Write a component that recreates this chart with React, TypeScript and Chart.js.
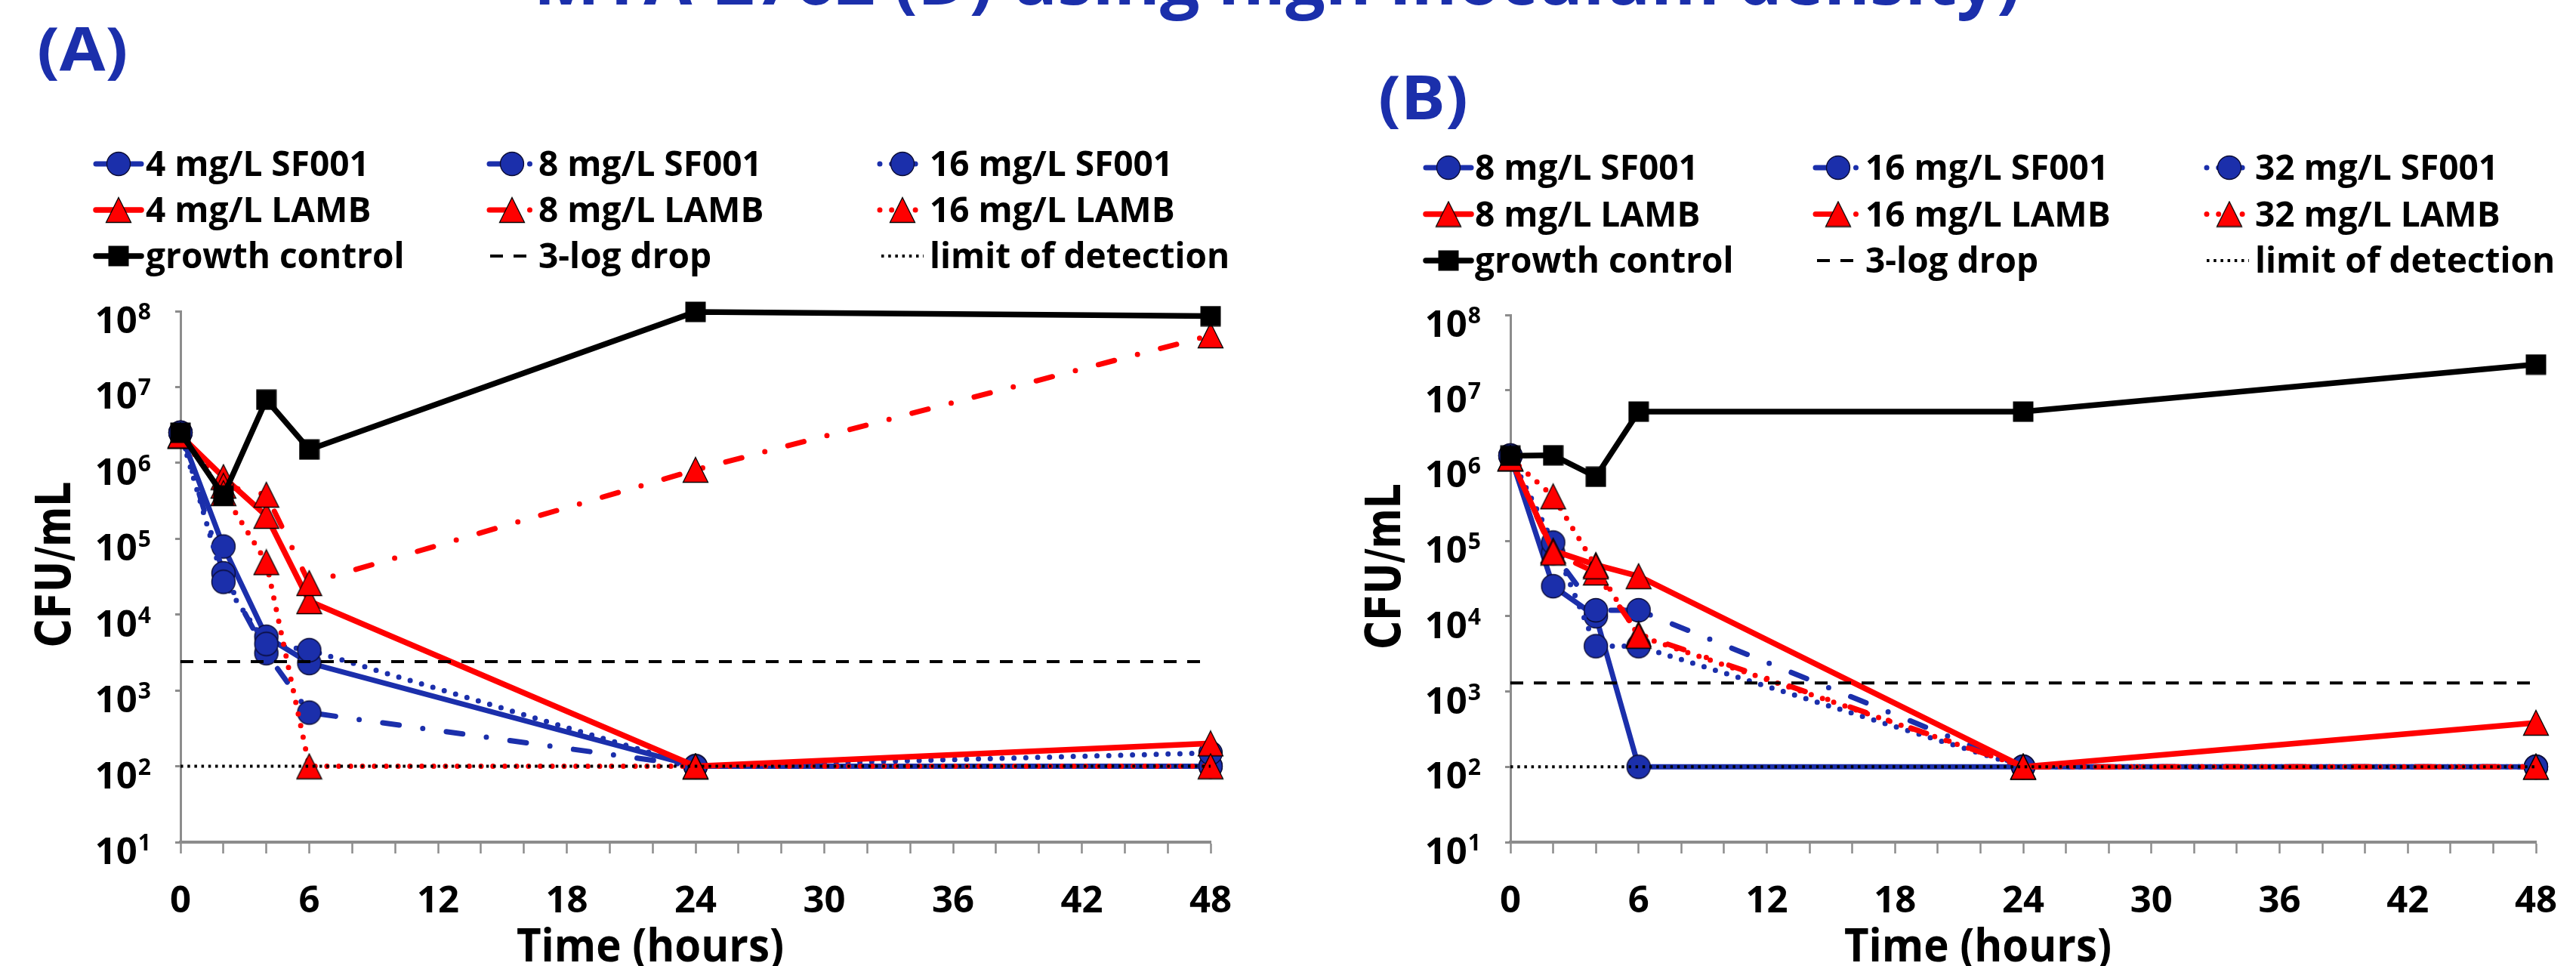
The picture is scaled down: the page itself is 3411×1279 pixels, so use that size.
import React, { useEffect, useRef } from 'react';
import { Chart, registerables } from 'chart.js';

Chart.register(...registerables);

// ---------- data ----------
const HOURS = [0, 2, 4, 6, 24, 48];
const REF_HOURS = [0, 48];
const Y_TICKS = [1e1, 1e2, 1e3, 1e4, 1e5, 1e6, 1e7, 1e8];
const X_TICK_LABELS = [0, 6, 12, 18, 24, 30, 36, 42, 48];

const TITLE = 'MYA-2762 (D) using high inoculum density)';

const A_LABELS = ['4 mg/L SF001', '8 mg/L SF001', '16 mg/L SF001', '4 mg/L LAMB', '8 mg/L LAMB', '16 mg/L LAMB', 'growth control', '3-log drop', 'limit of detection'];
const B_LABELS = ['8 mg/L SF001', '16 mg/L SF001', '32 mg/L SF001', '8 mg/L LAMB', '16 mg/L LAMB', '32 mg/L LAMB', 'growth control', '3-log drop', 'limit of detection'];

// Panel A
const A_SF001_4 = [2.5e6, 7.9e4, 5.1e3, 2.3e3, 100, 100];
const A_SF001_8 = [2.5e6, 3.5e4, 3.1e3, 510, 100, 100];
const A_SF001_16 = [2.5e6, 2.7e4, 4.1e3, 3.4e3, 100, 150];
const A_LAMB_4 = [2.3e6, 6.5e5, 2.0e5, 1.5e4, 100, 200];
const A_LAMB_8 = [2.3e6, 5.0e5, 3.8e5, 2.6e4, 8.1e5, 4.8e7];
const A_LAMB_16 = [2.3e6, 4.0e5, 4.9e4, 100, 100, 100];
const A_GROWTH = [2.5e6, 3.7e5, 6.8e6, 1.5e6, 9.8e7, 8.6e7];
const A_3LOG = [2400, 2400];
const A_LOD = [100, 100];

// Panel B
const B_SF001_8 = [1.35e6, 2.5e4, 1.0e4, 100, 100, 100];
const B_SF001_16 = [1.35e6, 6.9e4, 1.2e4, 1.2e4, 100, 100];
const B_SF001_32 = [1.35e6, 9.5e4, 4.0e3, 4.0e3, 100, 100];
const B_LAMB_8 = [1.25e6, 7.4e4, 4.8e4, 3.4e4, 100, 385];
const B_LAMB_16 = [1.25e6, 7.0e4, 3.8e4, 5.8e3, 100, 100];
const B_LAMB_32 = [1.25e6, 3.9e5, 4.6e4, 5.5e3, 100, 100];
const B_GROWTH = [1.35e6, 1.37e6, 7.1e5, 5.2e6, 5.2e6, 2.2e7];
const B_3LOG = [1300, 1300];
const B_LOD = [100, 100];

const A_SERIES = [A_SF001_4, A_SF001_8, A_SF001_16, A_LAMB_4, A_LAMB_8, A_LAMB_16, A_GROWTH, A_3LOG, A_LOD];
const B_SERIES = [B_SF001_8, B_SF001_16, B_SF001_32, B_LAMB_8, B_LAMB_16, B_LAMB_32, B_GROWTH, B_3LOG, B_LOD];

// ---------- styles ----------
const BLUE = '#1b2fab';
const RED = '#ff0000';
const BLACK = '#000000';
const GRAY = '#8c8c8c';
const FONT = '"Open Sans", "Liberation Sans", sans-serif';

const DASHDOT = [22, 31.5, 0, 31.5];
const DOTTED = [0, 15.7];
const DASHED = [17, 14];
const FINE_DOT = [3.5, 5.7];

type Style = { color: string; dash: number[]; width: number; cap: CanvasLineCap; marker: string | null };
const STYLES: Style[] = [
  { color: BLUE, dash: [], width: 7, cap: 'round', marker: 'circle' },
  { color: BLUE, dash: DASHDOT, width: 7, cap: 'round', marker: 'circle' },
  { color: BLUE, dash: DOTTED, width: 7, cap: 'round', marker: 'circle' },
  { color: RED, dash: [], width: 7.5, cap: 'round', marker: 'triangle' },
  { color: RED, dash: DASHDOT, width: 7, cap: 'round', marker: 'triangle' },
  { color: RED, dash: DOTTED, width: 7, cap: 'round', marker: 'triangle' },
  { color: BLACK, dash: [], width: 7.5, cap: 'round', marker: 'square' },
  { color: BLACK, dash: DASHED, width: 4, cap: 'butt', marker: null },
  { color: BLACK, dash: FINE_DOT, width: 4, cap: 'butt', marker: null },
];

const H = 1279;
const YW = 12;
const XH = 20;

const PANELS: Record<string, any> = {
  A: {
    canvasLeft: 0, width: 1700,
    area: { left: 239, right: 1603, top: 412, bottom: 1115 },
    legendMarkX: [157, 678, 1195], legendTextX: [193, 713, 1231], legendRows: [217, 278, 339],
    label: '(A)', labelX: 49, labelBase: 94,
  },
  B: {
    canvasLeft: 1700, width: 1711,
    area: { left: 300, right: 1658, top: 417, bottom: 1115 },
    legendMarkX: [218, 734, 1252], legendTextX: [253, 770, 1286], legendRows: [222, 283.5, 345],
    label: '(B)', labelX: 125, labelBase: 158,
  },
};

let MARKERS: Record<string, HTMLCanvasElement> | null = null;
function getMarkers() {
  if (MARKERS) return MARKERS;
  const mk = (s: number, draw: (g: CanvasRenderingContext2D) => void) => {
    const c = document.createElement('canvas');
    c.width = s; c.height = s;
    draw(c.getContext('2d') as CanvasRenderingContext2D);
    return c;
  };
  MARKERS = {
    circle: mk(36, (g) => {
      g.beginPath(); g.arc(18, 18, 15.5, 0, Math.PI * 2);
      g.fillStyle = BLUE; g.fill();
      g.lineWidth = 1.3; g.strokeStyle = '#0a0a30'; g.stroke();
    }),
    triangle: mk(36, (g) => {
      g.beginPath(); g.moveTo(18, 1.5); g.lineTo(34.5, 34.5); g.lineTo(1.5, 34.5); g.closePath();
      g.fillStyle = RED; g.fill();
      g.lineWidth = 1.3; g.strokeStyle = '#000'; g.lineJoin = 'miter'; g.stroke();
    }),
    square: mk(28, (g) => {
      g.fillStyle = BLACK; g.fillRect(0.5, 0.5, 27, 27);
    }),
  };
  return MARKERS;
}

function drawText(ctx: CanvasRenderingContext2D, s: string, x: number, y: number, font: string, align: CanvasTextAlign, sx = 1) {
  ctx.save();
  ctx.font = font;
  ctx.textAlign = align;
  ctx.textBaseline = 'alphabetic';
  ctx.translate(x, y);
  ctx.scale(sx, 1);
  ctx.fillText(s, 0, 0);
  ctx.restore();
}

const decorPlugin = {
  id: 'decor',
  afterDraw(chart: any, _args: any, opts: any) {
    const P = PANELS[opts.panel];
    const labels: string[] = opts.panel === 'A' ? A_LABELS : B_LABELS;
    const ctx: CanvasRenderingContext2D = chart.ctx;
    const area = chart.chartArea;
    const xs = chart.scales.x;
    const ys = chart.scales.y;
    const markers = getMarkers();
    ctx.save();
    ctx.fillStyle = '#000';

    // y tick labels 10^n
    for (const v of Y_TICKS) {
      const y = ys.getPixelForValue(v);
      const exp = String(Math.round(Math.log10(v)));
      const right = area.left - 39;
      ctx.font = `bold 30px ${FONT}`;
      const w2 = ctx.measureText(exp).width;
      drawText(ctx, exp, right - w2, y + 11, `bold 30px ${FONT}`, 'left');
      drawText(ctx, '10', right - w2 - 1, y + 29, `bold 49px ${FONT}`, 'right');
    }

    // x tick labels
    for (const h of X_TICK_LABELS) {
      const x = xs.getPixelForValue(h);
      drawText(ctx, String(h), x, 1208, `bold 49px ${FONT}`, 'center');
    }

    // axis titles
    drawText(ctx, 'Time (hours)', (area.left + area.right) / 2 - 60, 1273, `bold 60px ${FONT}`, 'center', 0.94);
    ctx.save();
    ctx.translate(area.left - 146, (area.top + area.bottom) / 2 - 16);
    ctx.rotate(-Math.PI / 2);
    ctx.scale(0.8, 1);
    ctx.font = 'bold 64px "DejaVu Sans", sans-serif';
    ctx.textAlign = 'center';
    ctx.textBaseline = 'alphabetic';
    ctx.fillText('CFU/mL', 0, 0);
    ctx.restore();

    // panel label
    ctx.fillStyle = BLUE;
    drawText(ctx, P.label, P.labelX, P.labelBase, `bold 80px ${FONT}`, 'left', 1.1);
    ctx.fillStyle = '#000';

    // legend
    labels.forEach((label, i) => {
      const st = STYLES[i];
      const col = i % 3;
      const row = Math.floor(i / 3);
      const cy = P.legendRows[row];
      const mx = P.legendMarkX[col];
      const tx = P.legendTextX[col];
      ctx.save();
      ctx.strokeStyle = st.color;
      ctx.lineWidth = st.width;
      ctx.setLineDash(st.dash);
      ctx.lineCap = st.cap;
      ctx.beginPath();
      if (st.marker) { ctx.moveTo(mx - 30, cy); ctx.lineTo(mx + 30, cy); }
      else { ctx.moveTo(tx - 64, cy); ctx.lineTo(tx - 8, cy); }
      ctx.stroke();
      ctx.restore();
      if (st.marker) {
        const m = markers[st.marker];
        ctx.drawImage(m, mx - m.width / 2, cy - m.height / 2);
      }
      drawText(ctx, label, tx, cy + 16.4, `bold 46px ${FONT}`, 'left');
    });
    ctx.restore();
  },
};

function buildConfig(panel: string): any {
  const P = PANELS[panel];
  const series = panel === 'A' ? A_SERIES : B_SERIES;
  const labels = panel === 'A' ? A_LABELS : B_LABELS;
  const markers = getMarkers();
  const datasets = series.map((vals, i) => {
    const st = STYLES[i];
    const xsrc = vals.length === 2 ? REF_HOURS : HOURS;
    return {
      label: labels[i],
      data: vals.map((v, j) => ({ x: xsrc[j], y: v })),
      borderColor: st.color,
      backgroundColor: st.color,
      borderWidth: st.width,
      borderDash: st.dash,
      borderCapStyle: st.cap,
      borderJoinStyle: 'round',
      pointStyle: st.marker ? markers[st.marker] : false,
      pointRadius: st.marker ? 16 : 0,
      pointHoverRadius: st.marker ? 16 : 0,
      tension: 0,
      clip: false,
      order: series.length - i,
    };
  });
  return {
    type: 'line',
    data: { datasets },
    plugins: [decorPlugin],
    options: {
      animation: false,
      responsive: false,
      devicePixelRatio: 1,
      events: [],
      layout: {
        padding: {
          left: P.area.left - YW,
          right: P.width - P.area.right,
          top: P.area.top,
          bottom: H - P.area.bottom - XH,
        },
      },
      plugins: {
        legend: { display: false },
        tooltip: { enabled: false },
        title: { display: false },
        decor: { panel },
      },
      scales: {
        x: {
          type: 'linear',
          min: 0,
          max: 48,
          afterFit: (s: any) => { s.height = XH; },
          ticks: { stepSize: 2, display: false, autoSkip: false },
          grid: { drawOnChartArea: false, drawTicks: true, tickLength: 15, tickWidth: 2.5, tickColor: GRAY },
          border: { color: GRAY, width: 4 },
        },
        y: {
          type: 'logarithmic',
          min: 10,
          max: 1e8,
          afterFit: (s: any) => { s.width = YW; },
          afterBuildTicks: (s: any) => { s.ticks = Y_TICKS.map((v) => ({ value: v })); },
          ticks: { display: false },
          grid: { drawOnChartArea: false, drawTicks: true, tickLength: 7, tickWidth: 3, tickColor: GRAY },
          border: { color: GRAY, width: 3 },
        },
      },
    },
  };
}

export default function App() {
  const refA = useRef<HTMLCanvasElement>(null);
  const refB = useRef<HTMLCanvasElement>(null);

  useEffect(() => {
    const charts: Chart[] = [];
    if (refA.current) charts.push(new Chart(refA.current, buildConfig('A')));
    if (refB.current) charts.push(new Chart(refB.current, buildConfig('B')));
    let alive = true;
    if ((document as any).fonts && (document as any).fonts.load) {
      Promise.all([
        (document as any).fonts.load(`bold 46px "Open Sans"`),
        (document as any).fonts.load(`bold 64px "DejaVu Sans"`),
      ]).then(() => { if (alive) charts.forEach((c) => c.draw()); }).catch(() => {});
    }
    return () => { alive = false; charts.forEach((c) => c.destroy()); };
  }, []);

  return (
    <div style={{ position: 'absolute', left: 0, top: 0, width: 3411, height: 1279, background: '#ffffff', overflow: 'hidden' }}>
      <canvas ref={refA} width={PANELS.A.width} height={H} style={{ position: 'absolute', left: PANELS.A.canvasLeft, top: 0 }} />
      <canvas ref={refB} width={PANELS.B.width} height={H} style={{ position: 'absolute', left: PANELS.B.canvasLeft, top: 0 }} />
      <div
        style={{
          position: 'absolute',
          left: 1691,
          top: -76,
          transform: 'translateX(-50%)',
          whiteSpace: 'nowrap',
          fontFamily: FONT,
          fontWeight: 700,
          fontSize: 93,
          lineHeight: 1,
          color: BLUE,
        }}
      >
        {TITLE}
      </div>
    </div>
  );
}
